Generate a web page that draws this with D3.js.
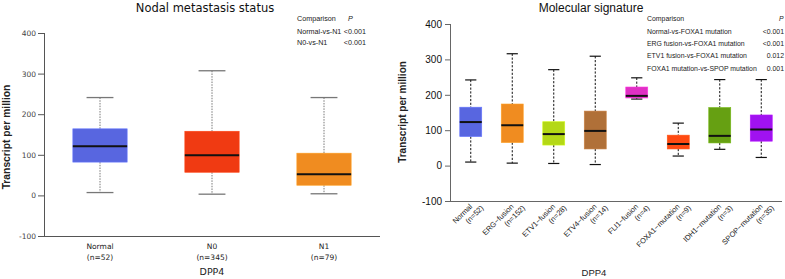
<!DOCTYPE html>
<html><head><meta charset="utf-8">
<script src="https://cdn.jsdelivr.net/npm/d3@7"></script>
<style>body{margin:0;background:#fff}svg{display:block}</style>
</head><body>
<svg id="c" width="785" height="279"></svg>
<script>
// Left panel data
const leftCats = ["Normal","N0","N1"];
const leftN = ["(n=52)","(n=345)","(n=79)"];
const leftMin = [7, 3, 4];
const leftQ1 = [82, 57, 25];
const leftMed = [121, 99, 52];
const leftQ3 = [164, 158, 104];
const leftMax = [241, 307, 241];
const leftColors = ["#5866E0","#F03A12","#F08C20"];
const leftTicks = [-100, 0, 100, 200, 300, 400];

// Right panel data
const rightCats = ["Normal","ERG\u2212fusion","ETV1\u2212fusion","ETV4\u2212fusion","FLI1\u2212fusion","FOXA1\u2212mutation","IDH1\u2212mutation","SPOP\u2212mutation"];
const rightN = ["(n=52)","(n=152)","(n=28)","(n=14)","(n=4)","(n=9)","(n=3)","(n=35)"];
const rightMin = [10, 7, 6, 3, 188, 27, 46, 23];
const rightQ1 = [82, 65, 58, 47, 191, 47, 64, 69];
const rightMed = [123, 114, 89, 98, 197, 61, 84, 102];
const rightQ3 = [165, 174, 124, 154, 222, 86, 164, 143];
const rightMax = [242, 316, 271, 309, 248, 120, 243, 243];
const rightColors = ["#5866E0","#F08C20","#B4D816","#B07038","#E030C4","#FF4A12","#66A012","#A012F0"];
const rightTicks = [-100, 0, 100, 200, 300, 400];

const svg = d3.select("#c");

function panel(o){
  const g = svg.append("g");
  const x = d3.scaleBand().domain(o.cats).range([o.x0, o.x1]);
  const y = d3.scaleLinear().domain([-100, 400]).range([o.yB, o.yT]);
  const ya = d3.axisLeft(y).tickValues(o.ticks).tickSize(o.tickLen).tickPadding(o.tickPad)
     .tickFormat(d => d < 0 ? "-" + Math.abs(d) : d);
  const yg = g.append("g").attr("transform", `translate(${o.x0},0)`).call(ya);
  yg.select(".domain").attr("stroke", o.axisColor).attr("stroke-width", 1).attr("d", `M0.5,${o.yT}V${o.yB}`);
  yg.selectAll(".tick line").attr("stroke", o.axisColor);
  yg.selectAll(".tick text").attr("font-family", o.font).attr("font-size", o.tickFs).attr("fill", o.tickColor);
  g.append("line").attr("x1", o.x0).attr("x2", o.x1).attr("y1", o.yB + 0.5).attr("y2", o.yB + 0.5)
    .attr("stroke", o.axisColor).attr("stroke-width", 1);

  const bw = x.bandwidth() * o.boxFrac;
  const cw = x.bandwidth() * o.capFrac;
  o.cats.forEach((c, i) => {
    const cx = x(c) + x.bandwidth() / 2;
    g.append("line").attr("x1", cx).attr("x2", cx).attr("y1", y(o.max[i])).attr("y2", y(o.q3[i]))
      .attr("stroke", o.whColor).attr("stroke-width", o.whW).attr("stroke-dasharray", o.dash);
    g.append("line").attr("x1", cx).attr("x2", cx).attr("y1", y(o.q1[i])).attr("y2", y(o.min[i]))
      .attr("stroke", o.whColor).attr("stroke-width", o.whW).attr("stroke-dasharray", o.dash);
    [o.max[i], o.min[i]].forEach(v => {
      g.append("line").attr("x1", cx - cw / 2).attr("x2", cx + cw / 2).attr("y1", y(v)).attr("y2", y(v))
        .attr("stroke", o.capColor).attr("stroke-width", o.capW);
    });
    g.append("rect").attr("x", cx - bw / 2).attr("width", bw)
      .attr("y", y(o.q3[i])).attr("height", y(o.q1[i]) - y(o.q3[i]))
      .attr("fill", o.colors[i]).attr("stroke", d3.color(o.colors[i]).brighter(0.4)).attr("stroke-width", 0.6);
    g.append("line").attr("x1", cx - bw / 2).attr("x2", cx + bw / 2).attr("y1", y(o.med[i])).attr("y2", y(o.med[i]))
      .attr("stroke", "#111").attr("stroke-width", 2);
    o.label(g, c, o.n[i], cx);
  });
  return {x, y, g};
}

// Left panel
panel({
  cats: leftCats, n: leftN, min: leftMin, q1: leftQ1, med: leftMed, q3: leftQ3, max: leftMax, colors: leftColors,
  ticks: leftTicks, x0: 44, x1: 380, yT: 33, yB: 236, tickLen: 6, tickPad: 2, axisColor: "#555", tickColor: "#444",
  font: "DejaVu Sans", tickFs: 7.5, boxFrac: 0.485, capFrac: 0.24, whColor: "#555", whW: 0.8, dash: "1.5,1.2",
  capColor: "#777", capW: 1.3,
  label: (g, c, n, cx) => {
    const t = g.append("text").attr("x", cx).attr("y", 249).attr("text-anchor", "middle")
      .attr("font-family", "DejaVu Sans").attr("font-size", 7.5).attr("fill", "#222");
    t.append("tspan").attr("x", cx).text(c);
    t.append("tspan").attr("x", cx).attr("dy", 10.5).text(n);
  }
});
svg.append("text").attr("x", 205).attr("y", 12).attr("text-anchor", "middle")
  .attr("font-family", "DejaVu Sans").attr("font-size", 11.5).attr("fill", "#111").text("Nodal metastasis status");
svg.append("text").attr("transform", "translate(10,137) rotate(-90)").attr("text-anchor", "middle")
  .attr("font-family", "Liberation Sans").attr("font-weight", "bold").attr("font-size", 10.3).attr("fill", "#222")
  .text("Transcript per million");
svg.append("text").attr("x", 212).attr("y", 275).attr("text-anchor", "middle")
  .attr("font-family", "DejaVu Sans").attr("font-size", 9.5).attr("fill", "#222").text("DPP4");

const lt = svg.append("g").attr("font-family", "Liberation Sans").attr("font-size", 7.2).attr("fill", "#222");
lt.append("text").attr("x", 297).attr("y", 21).text("Comparison");
lt.append("text").attr("x", 348).attr("y", 21).attr("font-style", "italic").text("P");
const lRows = [["Normal-vs-N1","<0.001"],["N0-vs-N1","<0.001"]];
lRows.forEach((r, i) => {
  lt.append("text").attr("x", 297).attr("y", 33.8 + i * 11.4).text(r[0]);
  lt.append("text").attr("x", 366).attr("y", 33.8 + i * 11.4).attr("text-anchor", "end").text(r[1]);
});

// Right panel
panel({
  cats: rightCats, n: rightN, min: rightMin, q1: rightQ1, med: rightMed, q3: rightQ3, max: rightMax, colors: rightColors,
  ticks: rightTicks, x0: 450, x1: 782, yT: 24, yB: 201, tickLen: 5, tickPad: 3, axisColor: "#666", tickColor: "#111",
  font: "Liberation Sans", tickFs: 10, boxFrac: 0.53, capFrac: 0.27, whColor: "#111", whW: 1, dash: "2.2,1.6",
  capColor: "#111", capW: 1.2,
  label: (g, c, n, cx) => {
    const t = g.append("text").attr("transform", `translate(${cx + 2},${207}) rotate(-45)`).attr("text-anchor", "end")
      .attr("font-family", "Liberation Sans").attr("font-size", 7.5).attr("fill", "#222");
    t.append("tspan").attr("x", 0).attr("y", 0).text(c);
    t.append("tspan").attr("x", 0).attr("y", 0).attr("dx", 7).attr("dy", 9).text(n);
  }
});
svg.append("text").attr("x", 591).attr("y", 11.5).attr("text-anchor", "middle")
  .attr("font-family", "Liberation Sans").attr("font-size", 12).attr("fill", "#111").text("Molecular signature");
svg.append("text").attr("transform", "translate(406,112) rotate(-90)").attr("text-anchor", "middle")
  .attr("font-family", "Liberation Sans").attr("font-weight", "bold").attr("font-size", 10).attr("fill", "#222")
  .text("Transcript per million");
svg.append("text").attr("x", 594).attr("y", 276).attr("text-anchor", "middle")
  .attr("font-family", "Liberation Sans").attr("font-size", 9.5).attr("fill", "#222").text("DPP4");

const rt = svg.append("g").attr("font-family", "Liberation Sans").attr("font-size", 6.9).attr("fill", "#222");
rt.append("text").attr("x", 647).attr("y", 21).text("Comparison");
rt.append("text").attr("x", 779).attr("y", 21).attr("font-style", "italic").text("P");
const rRows = [["Normal-vs-FOXA1 mutation","<0.001"],["ERG fusion-vs-FOXA1 mutation","<0.001"],
  ["ETV1 fusion-vs-FOXA1 mutation","0.012"],["FOXA1 mutation-vs-SPOP mutation","0.001"]];
rRows.forEach((r, i) => {
  rt.append("text").attr("x", 647).attr("y", 33.5 + i * 12.4).text(r[0]);
  rt.append("text").attr("x", 784).attr("y", 33.5 + i * 12.4).attr("text-anchor", "end").text(r[1]);
});
</script>
</body></html>
